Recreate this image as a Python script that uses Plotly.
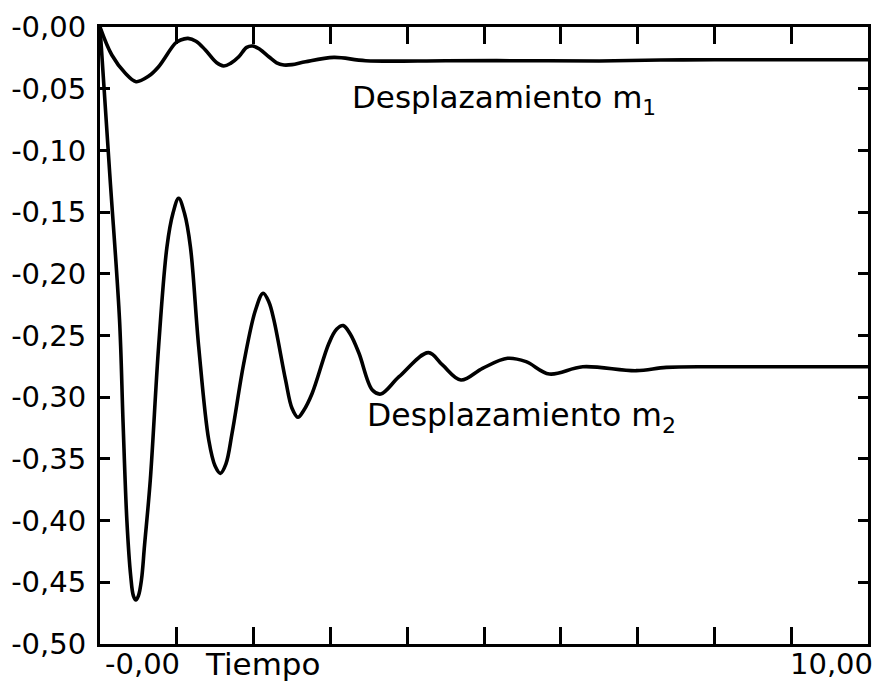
import plotly.graph_objects as go

# Time axis (0..10) and displacement values
t_m1 = [0, 0.154, 0.33, 0.47, 0.63, 0.763, 0.98, 1.05, 1.146, 1.25, 1.372, 1.52, 1.611, 1.70,
        1.807, 1.91, 1.99, 2.08, 2.198, 2.30, 2.394, 2.50, 2.677, 3.046, 3.46, 4.5, 5.5,
        6.5, 7.3, 8.0, 9.0, 10.0]
y_m1 = [0, -0.0227, -0.0375, -0.0443, -0.040, -0.0322, -0.0132, -0.0105, -0.0092, -0.0115,
        -0.0186, -0.029, -0.0316, -0.0295, -0.0241, -0.0165, -0.0154, -0.018, -0.0241,
        -0.029, -0.0308, -0.0305, -0.0281, -0.0246, -0.0273, -0.0273, -0.0273, -0.0275,
        -0.0268, -0.0266, -0.0266, -0.0265]

t_m2 = [0, 0.127, 0.254, 0.30, 0.35, 0.40, 0.435, 0.467, 0.50, 0.54, 0.58, 0.655, 0.763,
        0.872, 0.95, 1.024, 1.10, 1.177, 1.285, 1.416, 1.50, 1.568, 1.64, 1.72, 1.872, 2.025,
        2.124, 2.20, 2.264, 2.416, 2.50, 2.577, 2.65, 2.763, 2.981, 3.08, 3.168, 3.26, 3.372,
        3.546, 3.656, 3.894, 4.277, 4.459, 4.70, 4.981, 5.307, 5.547, 5.851, 6.286, 6.982,
        7.374, 8.0, 9.0, 10.0]
y_m2 = [0, -0.119, -0.237, -0.32, -0.40, -0.445, -0.461, -0.4643, -0.461, -0.448, -0.42,
        -0.367, -0.259, -0.178, -0.151, -0.1388, -0.151, -0.178, -0.259, -0.3347, -0.356,
        -0.3617, -0.354, -0.329, -0.2725, -0.2293, -0.2158, -0.223, -0.2374, -0.286, -0.309,
        -0.3163, -0.311, -0.2968, -0.2563, -0.245, -0.242, -0.249, -0.2644, -0.2942, -0.2974,
        -0.2834, -0.2639, -0.2739, -0.2861, -0.2766, -0.2685, -0.2712, -0.2812, -0.2753,
        -0.2785, -0.2758, -0.2753, -0.2753, -0.2753]

y_tickvals = [0, -0.05, -0.10, -0.15, -0.20, -0.25, -0.30, -0.35, -0.40, -0.45, -0.50]
y_ticktext = ["-0,00", "-0,05", "-0,10", "-0,15", "-0,20", "-0,25", "-0,30", "-0,35",
              "-0,40", "-0,45", "-0,50"]
x_tickvals = [1, 2, 3, 4, 5, 6, 7, 8, 9]
x_label_pos = [0.55, 9.53]
x_label_text = ["-0,00", "10,00"]

FONT = "DejaVu Sans"

fig = go.Figure()
fig.add_trace(go.Scatter(x=t_m1, y=y_m1, mode="lines",
                         line=dict(color="black", width=3.6, shape="spline", smoothing=1.0),
                         showlegend=False, hoverinfo="skip"))
fig.add_trace(go.Scatter(x=t_m2, y=y_m2, mode="lines",
                         line=dict(color="black", width=3.6, shape="spline", smoothing=1.0),
                         showlegend=False, hoverinfo="skip"))

annotations = []
for xv, txt in zip(x_label_pos, x_label_text):
    annotations.append(dict(x=xv, y=0, xref="x", yref="paper", yanchor="top", yshift=-1,
                            text=txt, showarrow=False,
                            font=dict(family=FONT, size=29, color="black")))
annotations.append(dict(x=2.12, y=0, xref="x", yref="paper", yanchor="top", yshift=0,
                        text="Tiempo", showarrow=False,
                        font=dict(family=FONT, size=31, color="black")))
annotations.append(dict(x=3.25, y=-0.0585, xref="x", yref="y", xanchor="left", yanchor="middle",
                        text="Desplazamiento m<sub>1</sub>", showarrow=False,
                        font=dict(family=FONT, size=31, color="black")))
annotations.append(dict(x=3.45, y=-0.3165, xref="x", yref="y", xanchor="left", yanchor="middle",
                        text="Desplazamiento m<sub>2</sub>", showarrow=False,
                        font=dict(family=FONT, size=31.5, color="black")))

fig.update_layout(
    width=876, height=686,
    margin=dict(l=100, r=8, t=27, b=42, autoexpand=False),
    paper_bgcolor="white", plot_bgcolor="white",
    annotations=annotations,
    xaxis=dict(range=[0, 10], tickvals=x_tickvals, showticklabels=False,
               ticks="inside", ticklen=17, tickwidth=3, tickcolor="black",
               showline=True, linewidth=3, linecolor="black", mirror="ticks",
               showgrid=False, zeroline=False, fixedrange=True, automargin=False),
    yaxis=dict(range=[-0.5, 0], tickvals=y_tickvals, ticktext=y_ticktext,
               ticks="inside", ticklen=10, tickwidth=3, tickcolor="black",
               showline=True, linewidth=3, linecolor="black", mirror="ticks",
               tickfont=dict(family=FONT, size=29, color="black"),
               ticklabelstandoff=5, automargin=False,
               showgrid=False, zeroline=False, fixedrange=True),
)

fig.write_html("out.html", config={"displayModeBar": False},
               post_script="document.body.style.margin='0';document.body.style.overflow='hidden';")
